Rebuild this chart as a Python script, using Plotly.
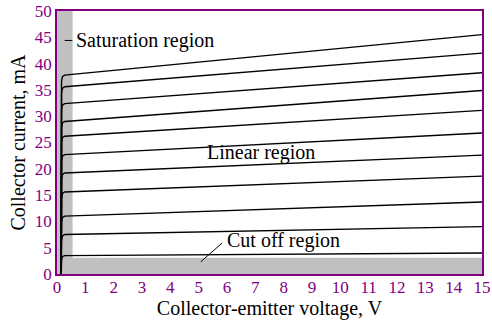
import plotly.graph_objects as go

# Collector-emitter voltage (V) samples along each characteristic: knee region then full scale
vce_points = [0.15, 0.16, 0.19, 0.27, 15.0]

# Collector current (mA) for each base-current step, lowest to highest
ic_start = [0.0] * 11
ic_knee_low = [2.6, 6.4, 9.9, 14.4, 18.0, 21.5, 25.0, 27.8, 31.2, 34.4, 36.6]
ic_knee_high = [3.3, 7.2, 10.7, 15.3, 18.9, 22.4, 25.9, 28.7, 32.1, 35.3, 37.5]
ic_flat = [3.5, 7.5, 11.0, 15.6, 19.2, 22.7, 26.2, 29.0, 32.4, 35.6, 37.8]
ic_end = [4.0, 9.0, 13.7, 18.6, 22.6, 26.8, 31.1, 34.9, 38.25, 42.0, 45.5]

x_ticks = list(range(0, 16))
y_ticks = list(range(0, 51, 5))

# Region boundaries
sat_vce = 0.55
cutoff_ic = 3.1

PURPLE = "#800080"
GREY = "#c0c0c0"
FONT = "'Liberation Serif', 'Times New Roman', Times, serif"

fig = go.Figure()

for i in range(len(ic_end)):
    fig.add_trace(go.Scatter(
        x=vce_points,
        y=[ic_start[i], ic_knee_low[i], ic_knee_high[i], ic_flat[i], ic_end[i]],
        mode="lines",
        line=dict(color="black", width=1.4),
        showlegend=False,
        hoverinfo="skip",
    ))

# Shaded operating regions
fig.add_shape(type="rect", x0=0, x1=sat_vce, y0=0, y1=50, xref="x", yref="y",
              fillcolor=GREY, line_width=0, layer="below")
fig.add_shape(type="rect", x0=0, x1=15, y0=0, y1=cutoff_ic, xref="x", yref="y",
              fillcolor=GREY, line_width=0, layer="below")

# Leader lines for region labels
fig.add_shape(type="line", x0=0.27, x1=0.54, y0=44.4, y1=44.4, xref="x", yref="y",
              line=dict(color="black", width=1))
fig.add_shape(type="line", x0=5.07, x1=5.83, y0=2.3, y1=5.9, xref="x", yref="y",
              line=dict(color="black", width=1))

fig.add_annotation(x=0.6, y=44.4, text="Saturation region", showarrow=False,
                   xanchor="left", yanchor="middle", font=dict(family=FONT, size=20, color="black"))
fig.add_annotation(x=7.2, y=23.15, text="Linear region", showarrow=False,
                   xanchor="center", yanchor="middle", font=dict(family=FONT, size=20, color="black"))
fig.add_annotation(x=5.93, y=6.4, text="Cut off region", showarrow=False,
                   xanchor="left", yanchor="middle", font=dict(family=FONT, size=20, color="black"))

fig.update_xaxes(
    range=[0, 15], tickvals=x_ticks, ticktext=[str(v) for v in x_ticks],
    showgrid=False, zeroline=False, ticks="", automargin=False,
    showline=True, mirror=True, linecolor=PURPLE, linewidth=1.5,
    tickfont=dict(family=FONT, size=17, color=PURPLE), ticklabelstandoff=-3,
    title=dict(text="Collector-emitter voltage, V", font=dict(family=FONT, size=20, color="black"), standoff=4),
)
fig.update_yaxes(
    range=[0, 50], tickvals=y_ticks, ticktext=[str(v) for v in y_ticks],
    showgrid=False, zeroline=False, ticks="", automargin=False,
    showline=True, mirror=True, linecolor=PURPLE, linewidth=1.5,
    tickfont=dict(family=FONT, size=17, color=PURPLE),
    title=dict(text="Collector current, mA", font=dict(family=FONT, size=20, color="black"), standoff=4),
)

fig.update_layout(
    width=492, height=324,
    margin=dict(l=57, r=10, t=11, b=50),
    paper_bgcolor="white", plot_bgcolor="white",
    font=dict(family=FONT),
)

fig.write_html("out.html")
